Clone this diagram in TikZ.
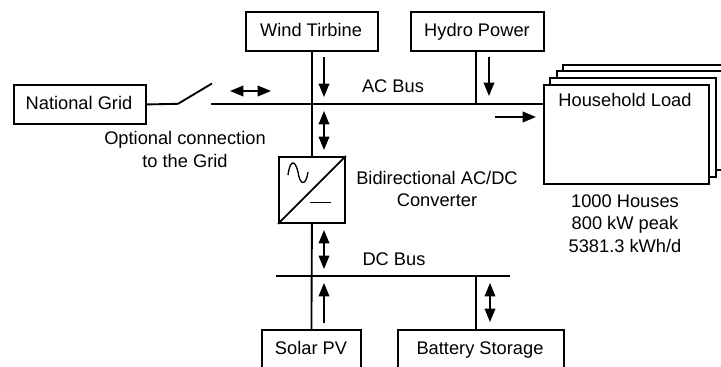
\documentclass[tikz,border=0pt]{standalone}
\usepackage{amsmath}
\usepackage{xcolor}
\usepackage{fontspec}
\setmainfont{Liberation Sans}
\usetikzlibrary{arrows.meta}
\tikzset{
  unitbox/.style={draw,line width=1.4pt,inner sep=0pt,anchor=north west},
  wire/.style={line width=1.4pt},
  flow/.style={line width=1pt,-{Triangle[length=10pt,width=8pt]}},
  flowboth/.style={line width=1pt,{Triangle[length=10pt,width=8pt]}-{Triangle[length=10pt,width=8pt]}},
  lbl/.style={inner sep=0pt,align=center,font=\fontsize{13.7}{17}\selectfont},
}
\begin{document}
\begin{tikzpicture}[x=0.75pt,y=0.75pt,yscale=-1,xscale=1]

\useasboundingbox (0,0) rectangle (721,367);

\begin{scope}
\clip (0,0) rectangle (721,367);

% load stack, back to front
\node [unitbox,fill=white,minimum width=166pt*0.75,minimum height=99pt*0.75] (load3) at (562,64) {};
\node [unitbox,fill=white,minimum width=166pt*0.75,minimum height=99pt*0.75] (load2) at (556,70.5) {};
\node [unitbox,fill=white,minimum width=166pt*0.75,minimum height=99pt*0.75] (load1) at (549,77) {};
\node [unitbox,fill=white,minimum width=165pt*0.75,minimum height=99pt*0.75] (load) at (543,84) {};

% sources
\node [unitbox,minimum width=132pt*0.75,minimum height=39pt*0.75] (grid) at (13,84) {};
\node [unitbox,minimum width=132pt*0.75,minimum height=39pt*0.75] (wind) at (245,11) {};
\node [unitbox,minimum width=133pt*0.75,minimum height=39pt*0.75] (hydro) at (410,11) {};
\node [unitbox,minimum width=66pt*0.75,minimum height=66pt*0.75] (conv) at (278,156) {};
\node [unitbox,minimum width=99pt*0.75,minimum height=50pt*0.75] (solar) at (261,329) {};
\node [unitbox,minimum width=166pt*0.75,minimum height=50pt*0.75] (batt) at (397,329) {};

% bus ends and switch
\coordinate (swleft) at (178,103.8);
\coordinate (swtip) at (212,83.5);
\coordinate (acstart) at (211,103.8);
\coordinate (achydro) at (476,103.8);
\coordinate (dcstart) at (276,276);
\coordinate (dcend) at (510,276);
\coordinate (dcbatt) at (476,276);

\draw [wire] (grid.east) -- (swleft) -- (swtip);
\draw [wire] (acstart) -- (load.west |- acstart);
\draw [wire] (wind.south) -- (conv.north);
\draw [wire] (achydro) -- (achydro |- hydro.south);
\draw [wire] (conv.south) -- (solar.north);
\draw [wire] (dcstart) -- (dcend);
\draw [wire] (dcbatt) -- (dcbatt |- batt.north);

% converter symbol
\draw [wire] (conv.south west) -- (conv.north east);
\draw [line width=1pt] (288,175) .. controls (290,160) and (295,159) .. (298,172) .. controls (300,186) and (306,186) .. (308,172);
\draw [line width=1pt] (310,202.5) -- (331,202.5);

% power flow arrows
\coordinate (a1s) at (324,57);
\coordinate (a1e) at (324,97);
\coordinate (a2s) at (230,91);
\coordinate (a2e) at (271,91);
\coordinate (a3s) at (324,111);
\coordinate (a3e) at (324,150);
\coordinate (a4s) at (489,57);
\coordinate (a4e) at (489,96);
\coordinate (a5s) at (495,117);
\coordinate (a5e) at (536,117);
\coordinate (a6s) at (324,230);
\coordinate (a6e) at (324,269);
\coordinate (a7s) at (324,323);
\coordinate (a7e) at (324,283);
\coordinate (a8s) at (490,283);
\coordinate (a8e) at (490,322);

\draw [flow] (a1s) -- (a1e);
\draw [flowboth] (a2s) -- (a2e);
\draw [flowboth] (a3s) -- (a3e);
\draw [flow] (a4s) -- (a4e);
\draw [flow] (a5s) -- (a5e);
\draw [flowboth] (a6s) -- (a6e);
\draw [flow] (a7s) -- (a7e);
\draw [flowboth] (a8s) -- (a8e);

\end{scope}

% labels
\node [lbl] (gridtxt) at (79,103) {National Grid};
\node [lbl] (windtxt) at (311,30) {Wind Tirbine};
\node [lbl] (hydrotxt) at (477,32) {Hydro Power};
\node [lbl] (loadtxt) at (625,99.5) {Household Load};
\node [lbl] (optxt) at (185,149.5) {Optional connection\\to the Grid};
\node [lbl] (actxt) at (393,86.5) {AC Bus};
\node [lbl] (convtxt) at (437,189) {Bidirectional AC/DC\\Converter};
\node [lbl] (dctxt) at (394,259) {DC Bus};
\node [lbl] (infotxt) at (625,223.5) {1000 Houses\\800 kW peak\\5381.3 kWh/d};
\node [lbl] (solartxt) at (311,348) {Solar PV};
\node [lbl] (batttxt) at (480,350) {Battery Storage};

\end{tikzpicture}
\end{document}
